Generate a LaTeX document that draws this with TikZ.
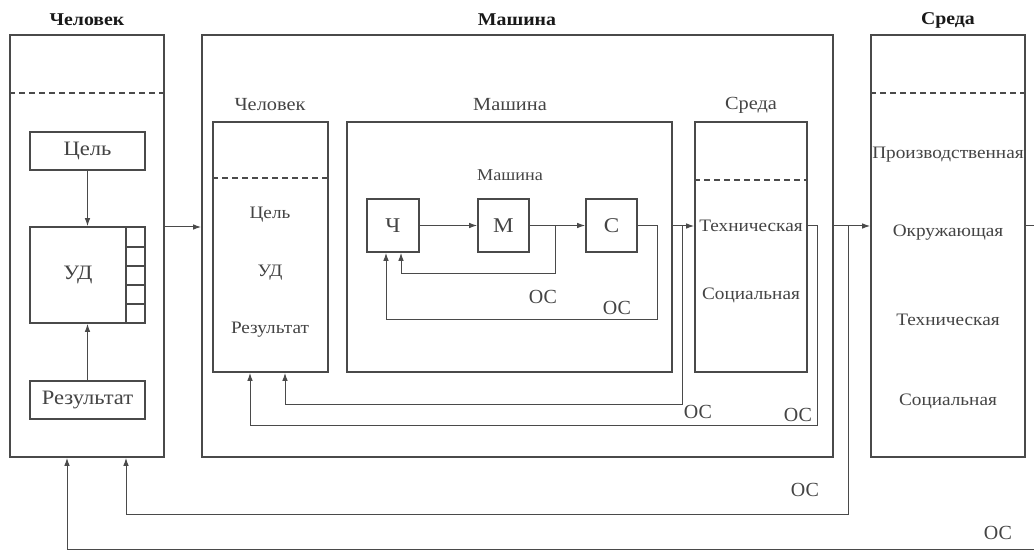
\documentclass[tikz,border=0pt]{standalone}
\usepackage{fontspec}
\setmainfont{Liberation Serif}[FakeStretch=1.1]
\newfontfamily\ocfont{Liberation Serif}
\usetikzlibrary{arrows.meta}
\definecolor{ink}{HTML}{4A4A4A}
\definecolor{txt}{HTML}{444444}
\begin{document}
\begin{tikzpicture}[x=1pt,y=-1pt,
  box/.style={draw=ink,line width=1.7pt,rectangle,inner sep=0pt,text=txt},
  link/.style={draw=ink,line width=1pt},
  arr/.style={link,-{Latex[length=8pt,width=5.5pt]}},
  sep/.style={draw=ink,line width=1.4pt,dash pattern=on 6pt off 4pt},
  title/.style={font=\fontsize{18}{20}\selectfont\bfseries,text=black!90},
  lab/.style={text=txt,font=\fontsize{17.5}{19}\selectfont},
  sub/.style={text=txt,font=\fontsize{18.5}{20}\selectfont},
  big/.style={text=txt,font=\fontsize{20.5}{22}\selectfont},
  oc/.style={text=txt,font=\ocfont\fontsize{20}{22}\selectfont}]
\fill[white] (0,0) rectangle (1034,553);
\useasboundingbox (0,0) rectangle (1034,553);

% ---------- Человек (outer) ----------
\node[box,minimum width=154pt,minimum height=422pt] (hum) at (87,246) {};
\node[title] (humt) at (87,20) {Человек};
\draw[sep] (hum.west |- 0,93) -- (hum.east |- 0,93);
\node[box,big,minimum width=115pt,minimum height=38pt] (celi) at (87.5,151) {Цель};
\node[box,minimum width=115pt,minimum height=96pt] (ud) at (87.5,275) {};
\node[big] (udt) at (78,275) {УД};
\draw[link,line width=1.3pt] (126,227) -- (126,323);
\foreach \yy in {247,266,285,304} \draw[link,line width=1.3pt] (126,\yy) -- (145,\yy);
\node[box,big,minimum width=115pt,minimum height=38pt] (res) at (87.5,400) {Результат};
\draw[arr] (celi) -- (ud);
\draw[arr] (res) -- (ud);

% ---------- Машина (outer) ----------
\node[box,minimum width=631pt,minimum height=422pt] (mach) at (517.5,246) {};
\node[title] (macht) at (517,20) {Машина};
\draw[arr] (hum.east |- 0,227) -- (mach.west |- 0,227);

% inner Человек
\node[box,minimum width=115pt,minimum height=250pt] (ih) at (270.5,247) {};
\node[sub] (iht) at (270,105) {Человек};
\draw[sep] (ih.west |- 0,178) -- (ih.east |- 0,178);
\node[lab] (ih1) at (270,215) {Цель};
\node[lab] (ih2) at (270,273) {УД};
\node[lab] (ih3) at (270,330) {Результат};

% inner Машина
\node[box,minimum width=325pt,minimum height=250pt] (im) at (509.5,247) {};
\node[sub] (imt) at (510,105) {Машина};
\node[lab,font=\fontsize{16.5}{18}\selectfont] (ims) at (510,175) {Машина};
\node[box,sub,font=\fontsize{21}{23}\selectfont,minimum width=52pt,minimum height=53pt] (ch) at (393,225.5) {Ч};
\node[box,sub,font=\fontsize{21}{23}\selectfont,minimum width=51pt,minimum height=53pt] (m) at (503.5,225.5) {М};
\node[box,sub,font=\fontsize{21}{23}\selectfont,minimum width=51pt,minimum height=53pt] (c) at (611.5,225.5) {С};
\draw[arr] (ch) -- (m);
\draw[arr] (m) -- (c);
\coordinate (j1) at (555,225.5);
\draw[arr] (j1) -- (555,274) -| ([xshift=8pt]ch.south);
\draw[arr] (c.east) -- (657,225.5) -- (657,320) -| ([xshift=-7pt]ch.south);
\node[oc] (oc1) at (543,297) {ОС};
\node[oc] (oc2) at (617,308) {ОС};

% inner Среда
\node[box,minimum width=112pt,minimum height=250pt] (is) at (751,247) {};
\node[sub] (ist) at (751,105) {Среда};
\draw[sep] (is.west |- 0,180) -- (is.east |- 0,180);
\node[lab] (is1) at (751,226) {Техническая};
\node[lab] (is2) at (751,295) {Социальная};
\draw[arr] (im.east |- 0,226) -- (is.west |- 0,226);
\coordinate (j2) at (682,226);
\draw[arr] (j2) -- (682,404) -| (ih.south -| 285,0);
\draw[arr] (is.east |- 0,226) -- (817,226) -- (817,425) -| (ih.south -| 250,0);
\node[oc] (oc3) at (698,412) {ОС};
\node[oc] (oc4) at (798,415) {ОС};

% ---------- Среда (outer) ----------
\node[box,minimum width=154pt,minimum height=422pt] (env) at (948,246) {};
\node[title] (envt) at (948,20) {Среда};
\draw[sep] (env.west |- 0,93) -- (env.east |- 0,93);
\node[lab] (e1) at (948,155) {Производственная};
\node[lab] (e2) at (948,233) {Окружающая};
\node[lab] (e3) at (948,320) {Техническая};
\node[lab] (e4) at (948,401) {Социальная};
\draw[arr] (mach.east |- 0,226) -- (env.west |- 0,226);
\coordinate (j3) at (848,226);
\draw[arr] (j3) -- (848,514) -| (hum.south -| 126,0);
\draw[arr] (env.east |- 0,226) -- (1042,226) -- (1042,549) -| (hum.south -| 67,0);
\node[oc] (oc5) at (805,490) {ОС};
\node[oc] (oc6) at (998,533) {ОС};
\end{tikzpicture}
\end{document}
